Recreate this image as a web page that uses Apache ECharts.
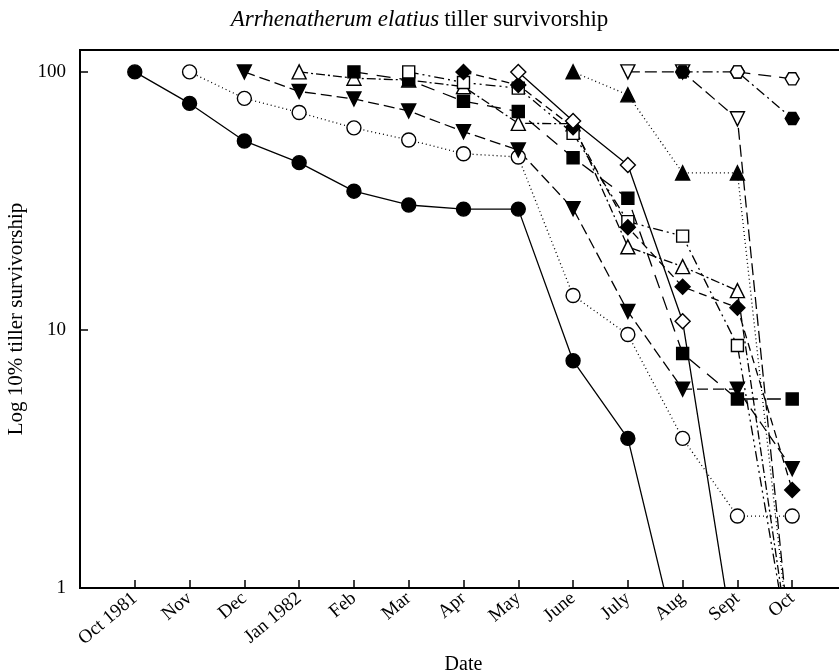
<!DOCTYPE html>
<html>
<head>
<meta charset="utf-8">
<script src="https://cdn.jsdelivr.net/npm/echarts@6/dist/echarts.min.js"></script>
<style>html,body{margin:0;padding:0;background:#fff}#c{width:839px;height:671px}</style>
</head>
<body>
<div id="c"></div>
<script>
// Month categories (x positions 0..12)
const categories = ["Oct 1981","Nov","Dec","Jan 1982","Feb","Mar","Apr","May","June","July","Aug","Sept","Oct"];
const yTickLabels = [1, 10, 100];

// Cohort values (percent surviving), each starting at its own month index.
// Values below 1 (0.5) represent cohort extinction (line runs off the bottom).
const octCohort  = [100, 75.5, 54, 44.5, 34.5, 30.5, 29.4, 29.4, 7.6, 3.8, 0.5];
const novCohort  = [100, 79, 69.6, 60.7, 54.5, 48.2, 46.8, 13.6, 9.6, 3.8, 1.9, 1.9];
const decCohort  = [100, 84, 78.6, 70.6, 58.7, 49.8, 29.5, 11.8, 5.9, 5.9, 2.9];
const janCohort  = [100, 94.5, 93, 87.7, 63.2, 63, 21, 17.6, 14.2, 0.5];
const febCohort  = [100, 93, 77, 70.2, 46.5, 32.4, 8.1, 5.4, 5.4];
const marCohort  = [100, 91, 86.5, 57.8, 26.3, 23.1, 8.7, 0.5];
const aprCohort  = [100, 89, 61, 25, 14.7, 12.2, 2.4];
const mayCohort  = [100, 64.5, 43.6, 10.8, 0.5];
const junCohort  = [100, 81.5, 40.6, 40.6, 0.5];
const julCohort  = [100, 100, 65.8, 0.5];
const augCohort  = [100, 100, 66];
const sepCohort  = [100, 94];

const cohorts = [
  {start:0,  data:octCohort, symbol:'circle',   fill:true,  rot:0,   size:14, dash:'solid'},
  {start:1,  data:novCohort, symbol:'circle',   fill:false, rot:0,   size:14, dash:[1,3]},
  {start:2,  data:decCohort, symbol:'triangle', fill:true,  rot:180, size:14, dash:[11,5]},
  {start:3,  data:janCohort, symbol:'triangle', fill:false, rot:0,   size:14, dash:[9,3,2,3]},
  {start:4,  data:febCohort, symbol:'rect',     fill:true,  rot:0,   size:12, dash:[14,9]},
  {start:5,  data:marCohort, symbol:'rect',     fill:false, rot:0,   size:12, dash:[10,4,2,4,2,4]},
  {start:6,  data:aprCohort, symbol:'diamond',  fill:true,  rot:0,   size:15, dash:[8,5]},
  {start:7,  data:mayCohort, symbol:'diamond',  fill:false, rot:0,   size:15, dash:'solid'},
  {start:8,  data:junCohort, symbol:'triangle', fill:true,  rot:0,   size:14, dash:[1,3]},
  {start:9,  data:julCohort, symbol:'triangle', fill:false, rot:180, size:14, dash:[12,5]},
  {start:10, data:augCohort, symbol:'hex',      fill:true,  rot:0,   size:14, dash:[10,4,2,4]},
  {start:11, data:sepCohort, symbol:'hex',      fill:false, rot:0,   size:14, dash:[13,8]}
];

const HEX = 'path://M100,50 L75,6.7 L25,6.7 L0,50 L25,93.3 L75,93.3 Z';
const SERIF = '"Liberation Serif", "DejaVu Serif", serif';

const series = cohorts.map(function(c){
  return {
    type:'line',
    symbol: c.symbol === 'hex' ? HEX : c.symbol,
    symbolSize: c.size,
    symbolRotate: c.rot,
    symbolKeepAspect: true,
    showAllSymbol: true,
    clip: true,
    animation: false,
    itemStyle: {color: c.fill ? '#000' : '#fff', borderColor:'#000', borderWidth:1.4},
    lineStyle: {color:'#000', width:1.3, type: c.dash},
    data: c.data.map(function(v, k){
      const item = {value:[c.start + k, v]};
      if (v < 1) item.symbol = 'none';
      return item;
    })
  };
});

const chart = echarts.init(document.getElementById('c'), null, {renderer:'canvas'});
chart.setOption({
  backgroundColor:'#fff',
  animation:false,
  title:{
    left:'center', top:3,
    text:'{i|Arrhenatherum elatius} {n|tiller survivorship}',
    textStyle:{
      fontWeight:'normal',
      rich:{
        i:{fontFamily:SERIF, fontStyle:'italic', fontWeight:'normal', fontSize:23, color:'#000'},
        n:{fontFamily:SERIF, fontWeight:'normal', fontSize:23, color:'#000'}
      }
    }
  },
  grid:{left:80, top:50, width:767, height:538, containLabel:false, outerBoundsMode:'none',
        show:true, borderColor:'#000', borderWidth:2, backgroundColor:'transparent'},
  xAxis:{
    type:'value', min:-1, max:13, interval:1,
    name:'Date', nameLocation:'middle', nameGap:62,
    nameTextStyle:{fontFamily:SERIF, fontSize:20, color:'#000'},
    axisLine:{show:true, onZero:false, lineStyle:{color:'#000', width:2}},
    axisTick:{show:true, inside:true, length:8, lineStyle:{color:'#000', width:1.5}},
    splitLine:{show:false},
    axisLabel:{
      rotate:40, margin:8, fontFamily:SERIF, fontSize:19, color:'#000',
      formatter:function(v){ const i=Math.round(v); return (i>=0 && i<categories.length) ? categories[i] : ''; }
    }
  },
  yAxis:{
    type:'log', logBase:10, min:1, max:121.6,
    name:'Log 10% tiller survivorship', nameLocation:'middle', nameGap:52,
    nameTextStyle:{fontFamily:SERIF, fontSize:21, color:'#000'},
    axisLine:{show:true, onZero:false, lineStyle:{color:'#000', width:2}},
    axisTick:{show:true, inside:true, length:8, lineStyle:{color:'#000', width:1.5}},
    splitLine:{show:false},
    axisLabel:{
      margin:14, fontFamily:SERIF, fontSize:19, color:'#000',
      formatter:function(v){ const r=Math.round(v); return yTickLabels.indexOf(r)>=0 && Math.abs(v-r)<1e-6 ? String(r) : ''; }
    }
  },
  series: series
});
</script>
</body>
</html>
